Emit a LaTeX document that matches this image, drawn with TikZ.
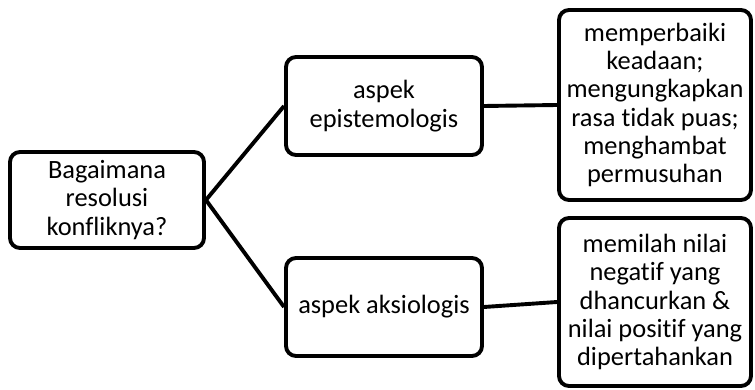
\documentclass[tikz,border=0pt]{standalone}
\usepackage{fontspec}
\setmainfont{Carlito}[RawFeature=-liga]
\begin{document}
\begin{tikzpicture}[x=1pt,y=-1pt,
  box/.style={draw=black,line width=3.9pt,rounded corners=10pt,fill=white,
    align=center,inner sep=0pt,font=\fontsize{26.4}{28.3}\selectfont},
  link/.style={draw=black,line width=3.9pt}]
\useasboundingbox (0,0) rectangle (755,390);
\node[box,minimum width=194pt,minimum height=96pt] (A) at (107,200) {Bagaimana\\resolusi\\konfliknya?};
\node[box,minimum width=196pt,minimum height=98pt] (B) at (384,106) {aspek\\epistemologis};
\node[box,minimum width=196pt,minimum height=98pt] (D) at (384,307) {aspek aksiologis};
\node[box,minimum width=192pt,minimum height=190pt] (C) at (655,105) {memperbaiki\\keadaan;\\mengungkapkan\\rasa tidak puas;\\menghambat\\permusuhan};
\node[box,minimum width=192pt,minimum height=168pt] (E) at (655,302) {memilah nilai\\negatif yang\\dhancurkan \&\\nilai positif yang\\dipertahankan};
\draw[link] (A.east) -- (B.west);
\draw[link] (A.east) -- (D.west);
\draw[link] (B.east) -- (C.west);
\draw[link] (D.east) -- (E.west);
\end{tikzpicture}
\end{document}
